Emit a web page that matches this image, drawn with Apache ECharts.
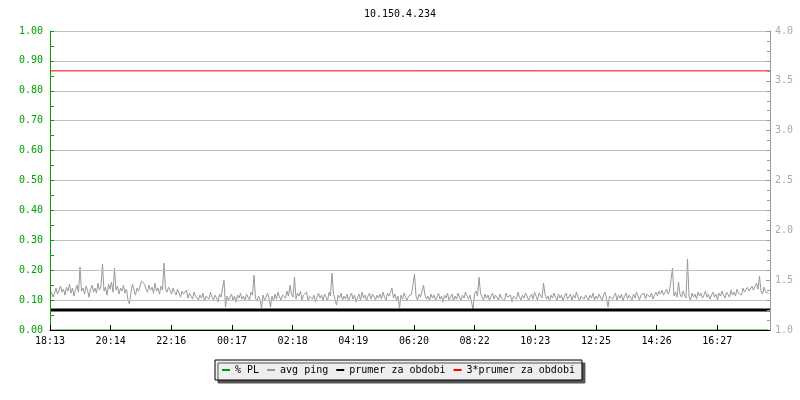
<!DOCTYPE html>
<html>
<head>
<meta charset="utf-8">
<script src="https://cdn.jsdelivr.net/npm/echarts@6/dist/echarts.min.js"></script>
<style>html,body{margin:0;padding:0;background:#fff}#c{width:800px;height:400px}</style>
</head>
<body>
<div id="c"></div>
<script>
// ---- data ----
const titleText = '10.150.4.234';
const tickLabels = ['18:13','20:14','22:16','00:17','02:18','04:19','06:20','08:22','10:23','12:25','14:26','16:27'];
const sampleStepMinutes = 3;
const spanMinutes = 1440;
const tickIntervalMinutes = 121.33;
// avg ping (right axis), one value every 3 minutes
const avgPing = [
1.35,1.38,1.33,1.37,1.42,1.36,1.40,1.44,1.38,1.41,1.35,1.43,1.39,1.46,1.37,1.42,1.34,1.40,1.45,1.38,
1.63,1.39,1.42,1.36,1.44,1.40,1.33,1.41,1.45,1.38,1.42,1.37,1.47,1.40,1.44,1.66,1.39,1.43,1.35,1.46,
1.41,1.48,1.38,1.62,1.40,1.44,1.36,1.42,1.39,1.45,1.37,1.41,1.30,1.26,1.38,1.46,1.40,1.35,1.42,1.39,
1.44,1.49,1.50,1.46,1.41,1.38,1.45,1.40,1.43,1.37,1.47,1.39,1.42,1.36,1.44,1.40,1.67,1.41,1.38,1.43,
1.40,1.36,1.42,1.38,1.35,1.41,1.37,1.33,1.39,1.36,1.34,1.40,1.32,1.37,1.35,1.31,1.38,1.34,1.36,1.30,
1.35,1.32,1.37,1.29,1.34,1.36,1.31,1.38,1.33,1.30,1.35,1.32,1.28,1.36,1.33,1.31,1.50,1.23,1.34,1.30,
1.33,1.36,1.30,1.34,1.28,1.35,1.32,1.37,1.31,1.34,1.29,1.36,1.33,1.30,1.38,1.35,1.55,1.32,1.29,1.34,
1.31,1.22,1.35,1.30,1.33,1.37,1.32,1.23,1.34,1.29,1.36,1.31,1.38,1.33,1.30,1.35,1.37,1.32,1.39,1.34,
1.45,1.36,1.33,1.53,1.31,1.37,1.34,1.39,1.30,1.35,1.33,1.38,1.29,1.34,1.36,1.31,1.35,1.28,1.33,1.37,
1.32,1.35,1.30,1.36,1.33,1.29,1.38,1.34,1.57,1.36,1.31,1.25,1.35,1.32,1.37,1.30,1.34,1.31,1.36,1.29,
1.34,1.37,1.31,1.35,1.28,1.33,1.36,1.30,1.38,1.32,1.35,1.29,1.34,1.37,1.31,1.36,1.33,1.30,1.35,1.32,
1.36,1.31,1.38,1.33,1.30,1.37,1.34,1.35,1.42,1.32,1.36,1.30,1.34,1.22,1.35,1.31,1.37,1.33,1.29,1.34,
1.32,1.36,1.38,1.56,1.34,1.30,1.36,1.33,1.39,1.45,1.35,1.31,1.34,1.29,1.36,1.32,1.35,1.30,1.33,1.37,
1.31,1.34,1.28,1.35,1.32,1.37,1.30,1.33,1.36,1.29,1.34,1.31,1.37,1.33,1.30,1.35,1.32,1.38,1.34,1.31,
1.35,1.33,1.21,1.36,1.39,1.34,1.53,1.37,1.33,1.30,1.36,1.32,1.35,1.29,1.34,1.37,1.31,1.35,1.33,1.30,
1.36,1.32,1.34,1.29,1.37,1.33,1.31,1.35,1.28,1.34,1.36,1.31,1.38,1.33,1.30,1.35,1.32,1.37,1.34,1.30,
1.33,1.36,1.31,1.38,1.34,1.30,1.37,1.35,1.32,1.47,1.36,1.31,1.34,1.29,1.35,1.32,1.37,1.33,1.30,1.36,
1.32,1.35,1.29,1.34,1.37,1.31,1.33,1.36,1.30,1.35,1.32,1.38,1.33,1.29,1.34,1.36,1.31,1.35,1.33,1.30,
1.35,1.32,1.37,1.30,1.34,1.31,1.36,1.33,1.29,1.35,1.38,1.32,1.23,1.34,1.36,1.31,1.33,1.37,1.30,1.35,
1.32,1.36,1.29,1.34,1.37,1.31,1.35,1.33,1.30,1.36,1.32,1.38,1.34,1.30,1.35,1.33,1.37,1.31,1.36,1.34,
1.33,1.37,1.31,1.35,1.38,1.34,1.39,1.36,1.40,1.35,1.38,1.41,1.36,1.39,1.37,1.62,1.34,1.38,1.33,1.48,
1.36,1.33,1.39,1.35,1.32,1.71,1.34,1.30,1.37,1.33,1.36,1.31,1.38,1.34,1.37,1.32,1.35,1.39,1.33,1.36,
1.31,1.35,1.38,1.33,1.36,1.30,1.37,1.34,1.39,1.35,1.32,1.38,1.36,1.33,1.40,1.35,1.38,1.34,1.41,1.37,
1.39,1.35,1.42,1.38,1.36,1.43,1.39,1.37,1.44,1.40,1.38,1.47,1.41,1.54,1.39,1.36,1.43,1.38,1.40,1.37
];
const packetLossValue = 0;        // % PL (left axis)
const periodAvgValue = 1.2;       // prumer za obdobi (right axis)
const triplePeriodAvgValue = 3.6; // 3*prumer za obdobi (right axis)
const leftAxisMin = 0, leftAxisMax = 1, leftAxisInterval = 0.1;
const rightAxisMin = 1, rightAxisMax = 4, rightAxisInterval = 0.5;

// ---- build ----
const xs = avgPing.map((_, i) => i * sampleStepMinutes);
const avgData = avgPing.map((v, i) => [xs[i], v]);
const plData = xs.map(x => [x, packetLossValue]);
const periodData = [[0, periodAvgValue], [spanMinutes, periodAvgValue]];
const tripleData = [[0, triplePeriodAvgValue], [spanMinutes, triplePeriodAvgValue]];

const FONT = 'DejaVu Sans Mono';
const chart = echarts.init(document.getElementById('c'), null, {renderer: 'canvas'});
chart.setOption({
  animation: false,
  backgroundColor: '#ffffff',
  textStyle: {fontFamily: FONT},
  title: {
    text: titleText, left: 'center', top: 4,
    textStyle: {fontFamily: FONT, fontSize: 10, fontWeight: 'normal', color: '#000'}
  },
  legend: {
    left: 215, top: 360,
    padding: [5, 7],
    itemGap: 8, itemWidth: 8, itemHeight: 2,
    icon: 'rect',
    backgroundColor: '#eeeeee', borderColor: '#000', borderWidth: 1,
    shadowColor: '#555555', shadowBlur: 0, shadowOffsetX: 3, shadowOffsetY: 3,
    textStyle: {fontFamily: FONT, fontSize: 10, color: '#000'},
    data: ['% PL', 'avg ping', 'prumer za obdobi', '3*prumer za obdobi']
  },
  grid: {left: 50, right: 30, top: 31, bottom: 70, containLabel: false},
  xAxis: {
    type: 'value', min: 0, max: spanMinutes, interval: tickIntervalMinutes,
    z: 5,
    axisLine: {show: true, lineStyle: {color: '#000', width: 1}},
    axisTick: {show: true, inside: true, length: 5, lineStyle: {color: '#000'}},
    axisLabel: {
      color: '#000', fontFamily: FONT, fontSize: 10, margin: 6,
      showMaxLabel: false,
      formatter: v => tickLabels[Math.round(v / tickIntervalMinutes)] || ''
    },
    splitLine: {show: false}
  },
  yAxis: [
    {
      type: 'value', position: 'left', min: leftAxisMin, max: leftAxisMax, interval: leftAxisInterval,
      z: 4,
      axisLine: {show: true, lineStyle: {color: '#00a000', width: 1}},
      axisTick: {show: true, inside: true, length: 4, lineStyle: {color: '#00a000'}},
      minorTick: {show: true, splitNumber: 2, length: 4, lineStyle: {color: '#00a000'}},
      axisLabel: {color: '#00a000', fontFamily: FONT, fontSize: 10, margin: 7, formatter: v => v.toFixed(2)},
      splitLine: {show: true, lineStyle: {color: '#c0c0c0', width: 1}}
    },
    {
      type: 'value', position: 'right', min: rightAxisMin, max: rightAxisMax, interval: rightAxisInterval,
      z: 4,
      axisLine: {show: true, lineStyle: {color: '#999999', width: 1}},
      axisTick: {show: true, inside: true, length: 4, lineStyle: {color: '#999999'}},
      minorTick: {show: true, splitNumber: 5, length: 3, lineStyle: {color: '#999999'}},
      axisLabel: {color: '#aaaaaa', fontFamily: FONT, fontSize: 10, margin: 5, formatter: v => v.toFixed(1)},
      splitLine: {show: false}
    }
  ],
  series: [
    {name: '% PL', type: 'line', yAxisIndex: 0, data: plData, showSymbol: false, z: 1,
     color: '#00a000', lineStyle: {color: '#00a000', width: 1}},
    {name: 'avg ping', type: 'line', yAxisIndex: 1, data: avgData, showSymbol: false, z: 2,
     color: '#999999', lineStyle: {color: '#999999', width: 1}},
    {name: 'prumer za obdobi', type: 'line', yAxisIndex: 1, data: periodData, showSymbol: false, z: 3,
     color: '#000000', lineStyle: {color: '#000000', width: 3}},
    {name: '3*prumer za obdobi', type: 'line', yAxisIndex: 1, data: tripleData, showSymbol: false, z: 3,
     color: '#ff0000', lineStyle: {color: '#ff0000', width: 1}}
  ]
});
</script>
</body>
</html>
